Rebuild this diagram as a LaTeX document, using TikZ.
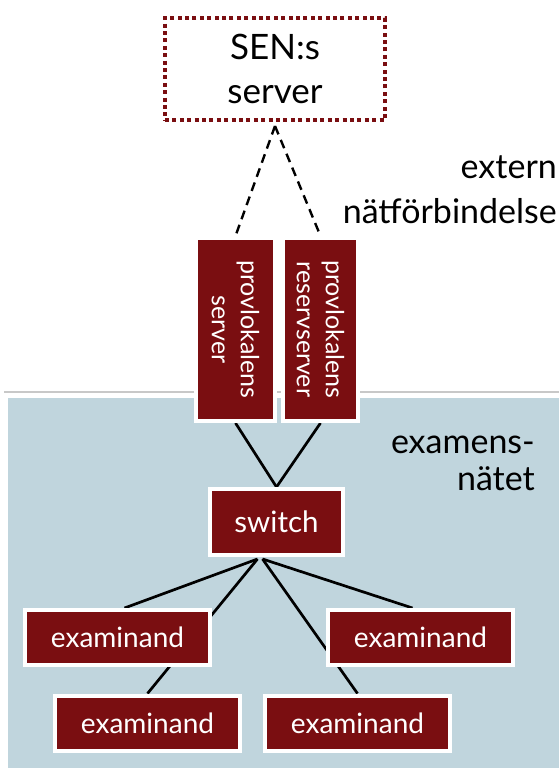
\documentclass[tikz,border=0pt]{standalone}
\usepackage{fontspec}
\setmainfont{Lato}
\usetikzlibrary{backgrounds,calc}
\definecolor{boxred}{RGB}{122,14,17}
\definecolor{netblue}{RGB}{192,213,221}
\definecolor{rulegray}{RGB}{200,200,200}

\begin{document}
\begin{tikzpicture}[x=1pt,y=-1pt,
  redbox/.style={draw=white, line width=4pt, fill=boxred, text=white,
    inner sep=0pt, font=\fontsize{28}{30}\selectfont},
  vbox/.style={redbox, rotate=-90, align=center, minimum width=183pt,
    font=\fontsize{25}{29}\selectfont},
  exbox/.style={redbox, minimum width=185pt, minimum height=55pt},
  link/.style={draw=black, line width=2.7pt},
  remote/.style={draw=black, line width=2.4pt, dash pattern=on 9pt off 6pt},
  tag/.style={anchor=base east, inner sep=0pt, font=\fontsize{34}{40}\selectfont}
]
\useasboundingbox (0,0) rectangle (559,769);

% external server
\node[draw=boxred, line width=4pt, dash pattern=on 4pt off 3.4pt,
      minimum width=220pt, minimum height=102pt, inner sep=0pt, align=center,
      font=\fontsize{35}{44}\selectfont] (sen) at (275,69) {SEN:s\\server};

% local servers
\node[vbox, minimum height=79pt] (srv) at (235.5,329.5) {provlokalens\\server};
\node[vbox, minimum height=75pt] (res) at (320.5,329.5) {provlokalens\\reservserver};

% switch and clients
\node[redbox, minimum width=133pt, minimum height=66pt,
      font=\fontsize{29.5}{30}\selectfont] (sw) at (276.5,522) {switch};
\node[exbox] (ex1) at (117.5,637.5) {examinand};
\node[exbox] (ex2) at (420.5,637.5) {examinand};
\node[exbox] (ex3) at (147.5,723) {examinand};
\node[exbox] (ex4) at (357.5,723) {examinand};

% labels
\node[tag] (ext1) at (557,178) {extern};
\node[tag] (ext2) at (557,223) {nätförbindelse};
\node[tag] (net1) at (535,453) {examens-};
\node[tag] (net2) at (535,490) {nätet};

\coordinate (hubL) at ($(sw.south)+(-19,2)$);
\coordinate (hubR) at ($(sw.south)+(-14,2)$);

\begin{pgfonlayer}{background}
  % exam network area
  \draw[rulegray, line width=1.2pt] (4,392) -- (559,392);
  \fill[netblue] (8,398) rectangle (559,768);
  % connections
  \draw[remote] ($(sen.south)+(0,4)$) -- (srv.west);
  \draw[remote] ($(sen.south)+(0,4)$) -- (res.west);
  \draw[link] (srv.east) -- (sw.north);
  \draw[link] (res.east) -- (sw.north);
  \draw[link] (hubL) -- ($(ex1.north)+(7,0)$);
  \draw[link] (hubL) -- (ex3.north);
  \draw[link] (hubR) -- (ex4.north);
  \draw[link] (hubR) -- ($(ex2.north)+(-8,0)$);
\end{pgfonlayer}
\end{tikzpicture}
\end{document}
